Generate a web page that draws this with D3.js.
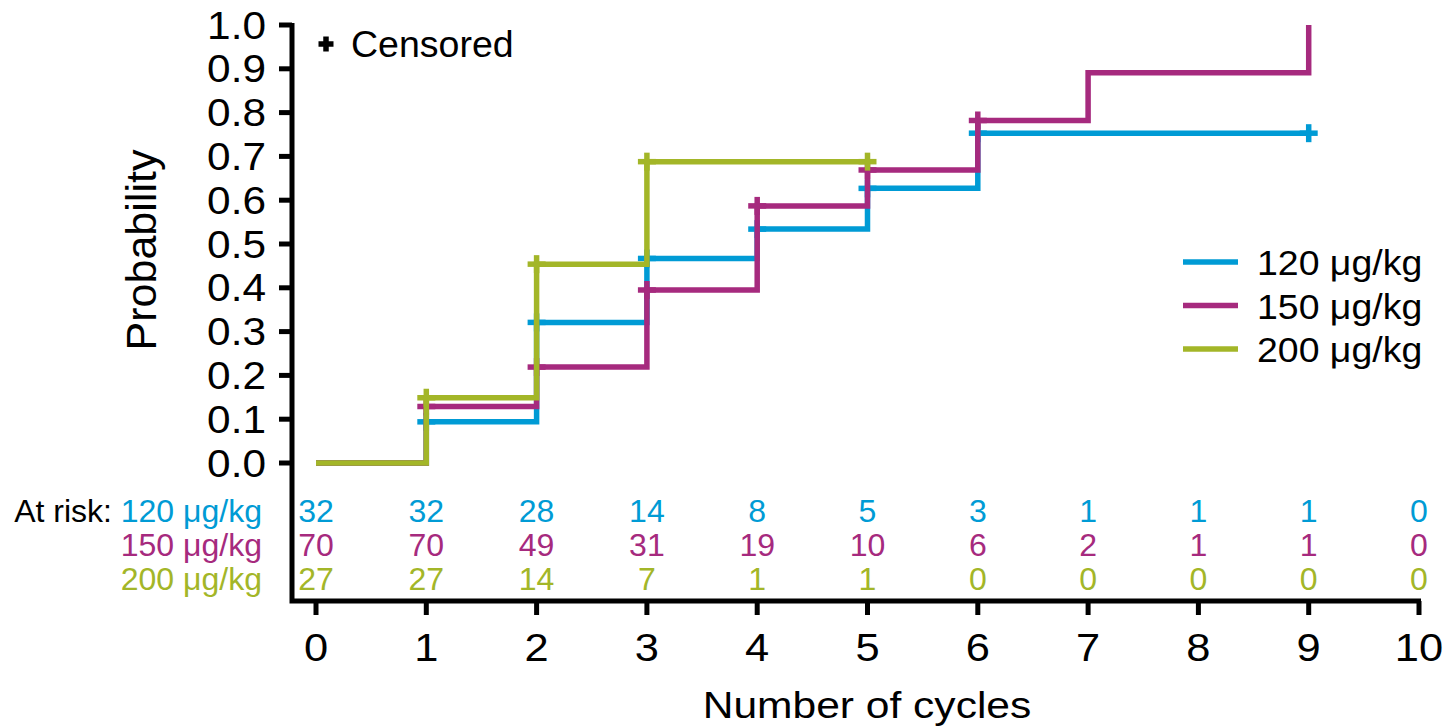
<!DOCTYPE html>
<html>
<head>
<meta charset="utf-8">
<script src="https://cdn.jsdelivr.net/npm/d3@7"></script>
<style>
  html, body { margin: 0; padding: 0; background: #fff; }
  svg { display: block; font-family: "Liberation Sans", Arial, sans-serif; }
</style>
</head>
<body>
<svg id="chart" width="1444" height="728"></svg>
<script>
// Cumulative incidence by cycle, three dose groups
const seriesNames = ["120 μg/kg", "150 μg/kg", "200 μg/kg"];
const seriesColors = ["#009bd5", "#a62a7e", "#a3b628"];

// step times and cumulative probabilities (value holds from that time on)
const times120 = [0, 1, 2, 3, 4, 5, 6];
const prob120  = [0, 0.094, 0.321, 0.467, 0.534, 0.627, 0.753];
const end120 = 9;
const censor120 = [1, 2, 3, 4, 5, 6, 9];

const times150 = [0, 1, 2, 3, 4, 5, 6, 7, 9];
const prob150  = [0, 0.129, 0.219, 0.395, 0.587, 0.669, 0.782, 0.891, 1.0];
const end150 = 9;
const censor150 = [1, 2, 3, 4, 5, 6];

const times200 = [0, 1, 2, 3];
const prob200  = [0, 0.149, 0.454, 0.688];
const end200 = 5;
const censor200 = [1, 2, 3, 5];

// numbers at risk at each cycle
const cycleTicks = [0, 1, 2, 3, 4, 5, 6, 7, 8, 9, 10];
const atRisk120 = [32, 32, 28, 14, 8, 5, 3, 1, 1, 1, 0];
const atRisk150 = [70, 70, 49, 31, 19, 10, 6, 2, 1, 1, 0];
const atRisk200 = [27, 27, 14, 7, 1, 1, 0, 0, 0, 0, 0];

const probTicks = [0, 0.1, 0.2, 0.3, 0.4, 0.5, 0.6, 0.7, 0.8, 0.9, 1.0];

const series = [
  { name: seriesNames[0], color: seriesColors[0], times: times120, probs: prob120, end: end120, censor: censor120, risk: atRisk120 },
  { name: seriesNames[1], color: seriesColors[1], times: times150, probs: prob150, end: end150, censor: censor150, risk: atRisk150 },
  { name: seriesNames[2], color: seriesColors[2], times: times200, probs: prob200, end: end200, censor: censor200, risk: atRisk200 }
];

const svg = d3.select("#chart");
const x = d3.scaleLinear().domain([0, 10]).range([316, 1419]);
const y = d3.scaleLinear().domain([0, 1]).range([463, 25]);

const axisTop = 23, axisLeft = 292, axisBottom = 601;
const lineW = 5.5;

// frame: y axis runs down to the x axis line
svg.append("path")
  .attr("d", `M${axisLeft},${axisTop}V${axisBottom}H${x(10) + 2}`)
  .attr("fill", "none").attr("stroke", "#000").attr("stroke-width", 5)
  .attr("stroke-linejoin", "miter");

// y ticks and labels
const yAxis = svg.append("g");
yAxis.selectAll("line").data(probTicks).join("line")
  .attr("x1", 279).attr("x2", axisLeft)
  .attr("y1", d => y(d)).attr("y2", d => y(d))
  .attr("stroke", "#000").attr("stroke-width", 5);
yAxis.selectAll("text").data(probTicks).join("text")
  .attr("transform", d => `translate(266,${y(d) + 13.5}) scale(1.1,1)`)
  .attr("text-anchor", "end")
  .attr("font-size", 38.5)
  .text(d => d3.format(".1f")(d));

// x ticks and labels
const xAxis = svg.append("g");
xAxis.selectAll("line").data(cycleTicks).join("line")
  .attr("x1", d => x(d)).attr("x2", d => x(d))
  .attr("y1", axisBottom).attr("y2", 615)
  .attr("stroke", "#000").attr("stroke-width", 5);
xAxis.selectAll("text").data(cycleTicks).join("text")
  .attr("transform", d => `translate(${x(d)},661) scale(1.1,1)`)
  .attr("text-anchor", "middle")
  .attr("font-size", 39.5)
  .text(d => d);

// axis titles
svg.append("text")
  .attr("transform", `translate(156,250) rotate(-90)`)
  .attr("text-anchor", "middle")
  .attr("font-size", 43)
  .text("Probability");
svg.append("text")
  .attr("transform", `translate(867,718) scale(1.15,1)`)
  .attr("text-anchor", "middle")
  .attr("font-size", 37)
  .text("Number of cycles");

// step curves, drawn blue first so the higher doses sit on top
const stepLine = d3.line().x(d => x(d[0])).y(d => y(d[1])).curve(d3.curveStepAfter);
const arm = 9;

series.forEach(s => {
  const pts = s.times.map((t, i) => [t, s.probs[i]]);
  const last = s.probs[s.probs.length - 1];
  if (s.times[s.times.length - 1] < s.end) pts.push([s.end, last]);
  const g = svg.append("g");
  g.append("path")
    .datum(pts)
    .attr("d", stepLine)
    .attr("fill", "none")
    .attr("stroke", s.color)
    .attr("stroke-width", lineW)
    .attr("stroke-linejoin", "miter")
    .attr("stroke-linecap", "butt");

  // censor marks sit on the curve value at each censoring time
  const valueAt = t => {
    let v = s.probs[0];
    s.times.forEach((tt, i) => { if (tt <= t) v = s.probs[i]; });
    return v;
  };
  const marks = g.selectAll("g.censor").data(s.censor).join("g")
    .attr("transform", t => `translate(${x(t)},${y(valueAt(t))})`);
  marks.append("line").attr("x1", -arm).attr("x2", arm).attr("y1", 0).attr("y2", 0)
    .attr("stroke", s.color).attr("stroke-width", lineW);
  marks.append("line").attr("x1", 0).attr("x2", 0).attr("y1", -arm).attr("y2", arm)
    .attr("stroke", s.color).attr("stroke-width", lineW);
});

// censored key
const ck = svg.append("g").attr("transform", "translate(326,44)");
ck.append("line").attr("x1", -7.5).attr("x2", 7.5).attr("stroke", "#000").attr("stroke-width", 5.5);
ck.append("line").attr("y1", -7.5).attr("y2", 7.5).attr("stroke", "#000").attr("stroke-width", 5.5);
svg.append("text").attr("x", 351).attr("y", 57).attr("font-size", 37.5).text("Censored");

// legend
const legend = svg.append("g");
series.forEach((s, i) => {
  const cy = 262 + i * 43.5;
  legend.append("line")
    .attr("x1", 1183).attr("x2", 1238).attr("y1", cy).attr("y2", cy)
    .attr("stroke", s.color).attr("stroke-width", lineW);
  legend.append("text")
    .attr("transform", `translate(1257,${cy + 13}) scale(1.07,1)`)
    .attr("font-size", 35)
    .text(s.name);
});

// numbers at risk table
const riskRows = [522, 556, 590];
svg.append("text")
  .attr("transform", `translate(112,${riskRows[0]}) scale(1.05,1)`)
  .attr("text-anchor", "end").attr("font-size", 30.5)
  .text("At risk:");
series.forEach((s, i) => {
  svg.append("text")
    .attr("transform", `translate(262,${riskRows[i]}) scale(1.05,1)`)
    .attr("text-anchor", "end").attr("font-size", 30.5)
    .attr("fill", s.color)
    .text(s.name);
  svg.append("g").selectAll("text").data(s.risk).join("text")
    .attr("transform", (d, j) => `translate(${x(cycleTicks[j])},${riskRows[i]}) scale(1.05,1)`)
    .attr("text-anchor", "middle").attr("font-size", 30.5)
    .attr("fill", s.color)
    .text(d => d);
});
</script>
</body>
</html>
